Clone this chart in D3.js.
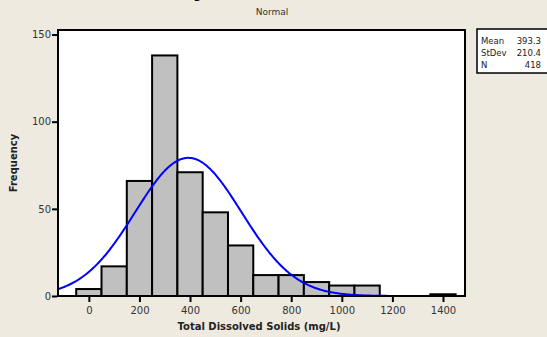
<!DOCTYPE html>
<html>
<head>
<meta charset="utf-8">
<script src="https://cdn.jsdelivr.net/npm/d3@7"></script>
<style>
  body { margin: 0; background: #eeeae0; }
  text { font-family: "DejaVu Sans", Verdana, sans-serif; }
</style>
</head>
<body>
<script>
// histogram bins (centre of each 100-wide bin) and counts
const binCentres = [0, 100, 200, 300, 400, 500, 600, 700, 800, 900, 1000, 1100, 1200, 1300, 1400];
const counts = [4, 17, 66, 138, 71, 48, 29, 12, 12, 8, 6, 6, 0, 0, 1];
const binWidth = 100;
const xTicks = [0, 200, 400, 600, 800, 1000, 1200, 1400];
const yTicks = [0, 50, 100, 150];
// stats shown in the box, used for the fitted normal curve
const statLabels = ["Mean", "StDev", "N"];
const statValues = ["393.3", "210.4", "418"];
const mean = 393.3, sd = 210.4, n = 418;

const width = 547, height = 337;
const frame = { left: 58, right: 465, top: 30, bottom: 296 };

let svg = d3.select('body').append('svg')
    .attr('width', width)
    .attr('height', height);

svg.append('rect')
    .attr('width', width).attr('height', height)
    .style('fill', '#eeeae0');

const x = d3.scaleLinear().domain([-122, 1487]).range([frame.left, frame.right]);
const y = d3.scaleLinear().domain([0, 152.6]).range([frame.bottom, frame.top]);

// plot area
svg.append('rect')
    .attr('x', frame.left).attr('y', frame.top)
    .attr('width', frame.right - frame.left)
    .attr('height', frame.bottom - frame.top)
    .style('fill', '#fff');

// bars
svg.append('g').selectAll('rect')
    .data(binCentres.map((c, i) => ({ c: c, n: counts[i] })).filter(d => d.n > 0))
    .join('rect')
    .attr('x', d => x(d.c - binWidth / 2))
    .attr('y', d => y(d.n))
    .attr('width', d => x(d.c + binWidth / 2) - x(d.c - binWidth / 2))
    .attr('height', d => y(0) - y(d.n))
    .style('fill', '#c0c0c0')
    .style('stroke', '#000')
    .style('stroke-width', 2);

// fitted normal curve, scaled to counts
let curve = [];
for (let v = -122; v <= 1180; v += 4) {
    let z = (v - mean) / sd;
    curve.push([v, n * binWidth / (sd * Math.sqrt(2 * Math.PI)) * Math.exp(-z * z / 2)]);
}
svg.append('path')
    .datum(curve)
    .attr('d', d3.line().x(d => x(d[0])).y(d => y(d[1])))
    .style('fill', 'none')
    .style('stroke', '#0000ff')
    .style('stroke-width', 2);

// frame border
svg.append('rect')
    .attr('x', frame.left).attr('y', frame.top)
    .attr('width', frame.right - frame.left)
    .attr('height', frame.bottom - frame.top)
    .style('fill', 'none')
    .style('stroke', '#000')
    .style('stroke-width', 2);

// axes
let xAxis = svg.append('g')
    .attr('transform', `translate(0,${frame.bottom + 1})`)
    .call(d3.axisBottom(x).tickValues(xTicks).tickSize(5).tickFormat(d3.format('d')));
let yAxis = svg.append('g')
    .attr('transform', `translate(${frame.left - 1},0)`)
    .call(d3.axisLeft(y).tickValues(yTicks).tickSize(5).tickFormat(d3.format('d')));

[xAxis, yAxis].forEach(a => {
    a.select('.domain').remove();
    a.selectAll('line').style('stroke', '#000').style('stroke-width', 2);
    a.selectAll('text').style('font-size', '10px').style('fill', '#333')
        .style('font-family', '"DejaVu Sans", Verdana, sans-serif');
});
xAxis.selectAll('text').attr('dy', '0.9em');
yAxis.selectAll('text').attr('x', -6);

// titles (the main title is cut off at the top edge, as in the original)
svg.append('text')
    .attr('x', 271).attr('y', -1)
    .attr('text-anchor', 'middle')
    .style('font-size', '11px').style('font-weight', 'bold')
    .text('Histogram of Total Dissolved Solids');
svg.append('text')
    .attr('x', 272).attr('y', 15)
    .attr('text-anchor', 'middle')
    .style('font-size', '9px').style('fill', '#333')
    .text('Normal');

svg.append('text')
    .attr('x', 259).attr('y', 330)
    .attr('text-anchor', 'middle')
    .style('font-size', '10px').style('font-weight', 'bold').style('fill', '#222')
    .text('Total Dissolved Solids (mg/L)');
svg.append('text')
    .attr('transform', 'translate(17,163) rotate(-90)')
    .attr('text-anchor', 'middle')
    .style('font-size', '10px').style('font-weight', 'bold').style('fill', '#222')
    .text('Frequency');

// stats box
svg.append('rect')
    .attr('x', 477).attr('y', 29)
    .attr('width', 75).attr('height', 44)
    .style('fill', '#fff')
    .style('stroke', '#000')
    .style('stroke-width', 1.5);
statLabels.forEach((s, i) => {
    svg.append('text')
        .attr('x', 481).attr('y', 44 + i * 12)
        .style('font-size', '8.5px').style('fill', '#222')
        .text(s);
    svg.append('text')
        .attr('x', 541).attr('y', 44 + i * 12)
        .attr('text-anchor', 'end')
        .style('font-size', '8.5px').style('fill', '#222')
        .text(statValues[i]);
});
</script>
</body>
</html>
